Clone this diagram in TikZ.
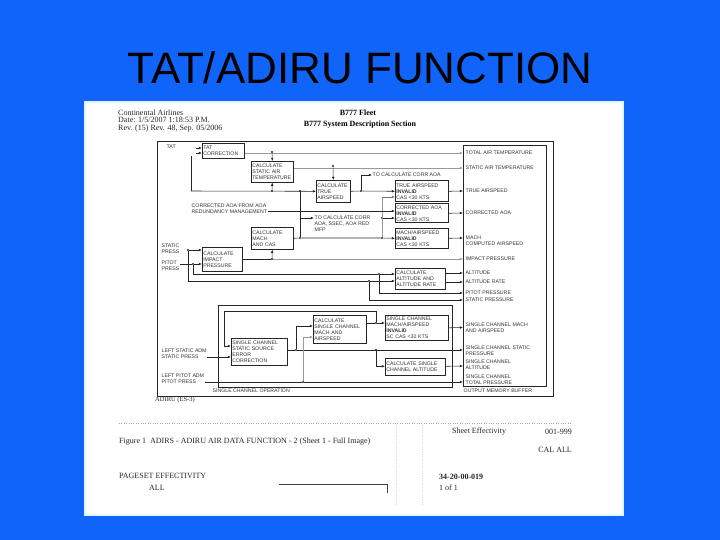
\documentclass[tikz,border=0pt]{standalone}
\usepackage{fontspec}
\setmainfont{Liberation Serif}
\newfontfamily\arial{Liberation Sans}
\usetikzlibrary{arrows.meta, positioning}
\definecolor{slideblue}{RGB}{16,100,250}
\newcommand{\dgfont}{\arial\fontsize{5.2}{6}\selectfont}

\begin{document}
\begin{tikzpicture}[x=1pt, y=-1pt,
    blk/.style={
        draw=black!85, line width=0.6pt, rectangle, anchor=north west,
        inner xsep=1pt, inner ysep=0.5pt, font=\dgfont, align=left, text=black!80
    },
    frm/.style={draw=black!85, line width=0.6pt, anchor=north west, inner sep=0pt},
    lbl/.style={font=\dgfont, align=left, anchor=west, inner sep=0.5pt, text=black!80},
    hdr/.style={font=\fontsize{8}{7.5}\selectfont, align=left, anchor=north west, inner sep=0pt, text=black!85},
    ftr/.style={font=\fontsize{8}{9}\selectfont, anchor=west, inner sep=0pt, text=black!85},
    arr/.style={-{Latex[length=3.2pt,width=2.6pt]}, line width=0.55pt, draw=black!85},
    ln/.style={line width=0.55pt, draw=black!85},
    faint/.style={draw=black!40},
    jn/.style={circle, fill=black!85, inner sep=0pt, minimum size=2.2pt}
]

% slide
\fill[slideblue] (0,0) rectangle (720,540);
\node[font=\arial\fontsize{44}{44}\selectfont, inner sep=0pt] (title) at (360,68) {TAT/ADIRU FUNCTION};

% scanned page
\fill[white] (84,101) rectangle (624,516);
\draw[cyan!12, line width=1.5pt] (85,102) rectangle (623,515);

\node[hdr] (airline) at (118,109.5) {Continental Airlines\\Date: 1/5/2007 1:18:53 P.M.\\Rev. (15) Rev. 48, Sep. 05/2006};
\node[font=\bfseries\fontsize{8}{8}\selectfont, inner sep=0pt] (fleet) at (358,113) {B777 Fleet};
\node[font=\bfseries\fontsize{8}{8}\selectfont, inner sep=0pt] (section) at (360,125) {B777 System Description Section};

% frames
\node[frm, line width=0.8pt, minimum width=396pt, minimum height=255pt] (frame) at (157,141) {};
\node[frm, minimum width=83pt, minimum height=241pt] (buffer) at (463,145) {};
\node[frm, minimum width=234pt, minimum height=82pt] (scop) at (218,305) {};
\node[lbl] (lbuf) at (463,391) {OUTPUT MEMORY BUFFER};
\node[lbl] (lscop) at (212,391) {SINGLE CHANNEL OPERATION};

% blocks
\node[blk, text width=40pt, minimum height=15pt] (tatc)    at (202,143)   {TAT\\CORRECTION};
\node[blk, text width=40pt, minimum height=21pt] (sat)     at (251,161)   {CALCULATE\\STATIC AIR\\TEMPERATURE};
\node[blk, text width=32pt, minimum height=22pt] (tas)     at (316,180)   {CALCULATE\\TRUE\\AIRSPEED};
\node[blk, text width=51pt, minimum height=21pt] (tasinv)  at (395,180.5) {TRUE AIRSPEED\\\textbf{INVALID}\\CAS <30 KTS};
\node[blk, text width=51pt, minimum height=19pt] (aoainv)  at (395,203.5) {CORRECTED AOA\\\textbf{INVALID}\\CAS <30 KTS};
\node[blk, text width=51pt, minimum height=20pt] (machinv) at (395,228)   {MACH/AIRSPEED\\\textbf{INVALID}\\CAS <30 KTS};
\node[blk, text width=40pt, minimum height=22pt] (mach)    at (251,227)   {CALCULATE\\MACH\\AND CAS};
\node[blk, text width=38pt, minimum height=24pt] (imp)     at (202,247)   {CALCULATE\\IMPACT\\PRESSURE};
\node[blk, text width=48pt, minimum height=21pt] (alt)     at (395,268)   {CALCULATE\\ALTITUDE AND\\ALTITUDE RATE};
\node[blk, text width=51pt, minimum height=28pt] (sccalc)  at (313,315)   {CALCULATE\\SINGLE CHANNEL\\MACH AND\\AIRSPEED};
\node[blk, text width=54pt, minimum height=27pt] (scssec)  at (231,338)   {SINGLE CHANNEL\\STATIC SOURCE\\ERROR\\CORRECTION};
\node[blk, text width=61pt, minimum height=25pt] (scinv)   at (385,315)   {SINGLE CHANNEL\\MACH/AIRSPEED\\\textbf{INVALID}\\SC CAS <30 KTS};
\node[blk, text width=58pt, minimum height=17pt] (scalt)   at (385,357.5) {CALCULATE SINGLE\\CHANNEL ALTITUDE};

% input labels
\node[lbl] (ltat)   at (166,147) {TAT};
\node[lbl] (lstat)  at (161,249) {STATIC\\PRESS};
\node[lbl] (lpitot) at (161,266) {PITOT\\PRESS};
\node[lbl] (laoa)   at (191,209) {CORRECTED AOA FROM AOA\\REDUNDANCY MANAGEMENT};
\node[lbl] (lcorr)  at (372,175) {TO CALCULATE CORR AOA};
\node[lbl, anchor=north west] (lssec) at (314,215) {TO CALCULATE CORR\\AOA, SSEC, AOA RED\\MFP};
\node[lbl] (llsp)   at (161,353.5) {LEFT STATIC ADM\\STATIC PRESS};
\node[lbl] (llpp)   at (161,379) {LEFT PITOT ADM\\PITOT PRESS};

% output ports
\coordinate (oTat)  at (463,153);
\coordinate (oSat)  at (463,168);
\coordinate (oTas)  at (463,191);
\coordinate (oAoa)  at (463,213);
\coordinate (oMach) at (463,238);
\coordinate (oImp)  at (463,259);
\coordinate (oAlt)  at (463,273);
\coordinate (oAltr) at (463,282);
\coordinate (oPt)   at (463,293);
\coordinate (oPs)   at (463,300);
\coordinate (oScm)  at (463,327.5);
\coordinate (oScs)  at (463,350);
\coordinate (oSca)  at (463,366);
\coordinate (oSct)  at (463,382);

\node[lbl, right=2pt of oTat]  (lTat)  {TOTAL AIR TEMPERATURE};
\node[lbl, right=2pt of oSat]  (lSat)  {STATIC AIR TEMPERATURE};
\node[lbl, right=2pt of oTas]  (lTas)  {TRUE AIRSPEED};
\node[lbl, right=2pt of oAoa]  (lAoa)  {CORRECTED AOA};
\node[lbl, right=2pt of oMach, yshift=-3pt] (lMach) {MACH\\COMPUTED AIRSPEED};
\node[lbl, right=2pt of oImp]  (lImp)  {IMPACT PRESSURE};
\node[lbl, right=2pt of oAlt]  (lAlt)  {ALTITUDE};
\node[lbl, right=2pt of oAltr] (lAltr) {ALTITUDE RATE};
\node[lbl, right=2pt of oPt]   (lPt)   {PITOT PRESSURE};
\node[lbl, right=2pt of oPs]   (lPs)   {STATIC PRESSURE};
\node[lbl, right=2pt of oScm]  (lScm)  {SINGLE CHANNEL MACH\\AND AIRSPEED};
\node[lbl, right=2pt of oScs, yshift=-1pt] (lScs) {SINGLE CHANNEL STATIC\\PRESSURE};
\node[lbl, right=2pt of oSca, yshift=1pt]  (lSca) {SINGLE CHANNEL\\ALTITUDE};
\node[lbl, right=2pt of oSct, yshift=2.5pt] (lSct) {SINGLE CHANNEL\\TOTAL PRESSURE};

% junctions
\node[jn] (j1)  at (272,191) {};
\node[jn] (j2)  at (300,191) {};
\node[jn] (j3)  at (361,191) {};
\node[jn] (j4)  at (382,218) {};
\node[jn] (j5)  at (382,238) {};
\node[jn] (j6)  at (300,238) {};
\node[jn] (j7)  at (272,259) {};
\node[jn] (jS)  at (188,250) {};
\node[jn] (jP)  at (193,264) {};
\node[jn] (jS2) at (369,281) {};
\node[jn] (jP2) at (379,274) {};
\node[jn] (j8)  at (296,350) {};
\node[jn] (j9)  at (376,350) {};
\node[jn] (jM)  at (376,323) {};
\node[jn] (j10) at (303,382) {};
\node[jn] (satTop) at (272,152) {};
\node[jn] (tasTop) at (333,166) {};

\coordinate (tatA)   at (196,148);
\coordinate (tatB)   at (196,153);
\coordinate (tatDn)  at (191,156);
\coordinate (tatBus) at (191,191);
\coordinate (casTop) at (382,197);
\coordinate (aoaIn)  at (395,211);
\coordinate (ssecArr) at (300,218);
\coordinate (sccIn1) at (313,326);
\coordinate (sccIn2) at (313,337);
\coordinate (fbB)    at (224,311);
\coordinate (fbIn)   at (231,346);
\coordinate (sIn)    at (231,357);

% temperature and airspeed
\draw[arr] (tatA) -- (tatc.west |- tatA);
\draw[arr] (tatB) -- (tatc.west |- tatB);
\draw[arr, faint] (tatc.east |- oTat) -- (oTat);
\draw[arr, faint] (sat.east |- oSat) -- (oSat);
\draw[ln] (tatDn) -- (tatBus);
\draw[arr] (tatBus) -- (tas.west);
\draw[arr] (j1) -- (sat.south);
\draw[arr] (satTop) -- (sat.north);
\draw[arr] (tasTop) -- (tas.north);
\draw[ln] (tas.east) -- (j3);
\draw[arr] (j3) -- (tasinv.west);
\draw[arr] (j3) |- (lcorr.west);
\draw[ln, faint] (casTop) -- (j5);
\draw[arr, draw=black!55] (casTop) -- (tasinv.west |- casTop);
\draw[arr] (j4) -- (aoainv.west |- j4);
\draw[arr] (laoa.east |- aoaIn) -- (aoaIn);
\draw[ln] (j2) -- (j6);
\draw[arr] (ssecArr) -- (lssec.west |- ssecArr);
\draw[ln] (mach.east) -- (j6) -- (j5);
\draw[arr] (j5) -- (machinv.west);
\draw[arr] (tasinv.east) -- (oTas);
\draw[arr] (aoainv.east) -- (oAoa);
\draw[arr] (machinv.east) -- (oMach);

% pressures
\draw[ln] (lpitot.east |- jP) -- (jP);
\draw[arr] (jS) -- (imp.west |- jS);
\draw[arr] (jP) -- (imp.west |- jP);
\draw[ln] (imp.east |- j7) -- (j7);
\draw[arr] (j7) -- (mach.south);
\draw[arr, faint] (j7) -- (oImp);
\draw[ln] (jS) |- (jS2);
\draw[ln] (jP) |- (jP2);
\draw[arr] (jP2) -- (alt.west |- jP2);
\draw[arr] (jS2) -- (alt.west |- jS2);
\draw[arr] (jP2) |- (oPt);
\draw[arr] (jS2) |- (oPs);
\draw[arr] (alt.east |- oAlt) -- (oAlt);
\draw[arr] (alt.east |- oAltr) -- (oAltr);

% single channel
\draw[arr] (llsp.east |- sIn) -- (sIn);
\draw[ln] (scssec.east |- j8) -- (j8);
\draw[arr] (j8) -- (oScs);
\draw[arr] (j8) |- (sccIn1);
\draw[arr, faint] (j10) |- (sccIn2);
\draw[ln] (sccalc.east |- jM) -- (jM);
\draw[arr] (jM) -- (scinv.west |- jM);
\draw[arr] (jM) |- (fbB) |- (fbIn);
\draw[arr] (j9) |- (scalt.west);
\draw[arr] (scinv.east) -- (oScm);
\draw[arr] (scalt.east) -- (oSca);
\draw[ln] (llpp.east |- j10) -- (j10);
\draw[arr] (j10) -- (oSct);

% page footer
\node[font=\fontsize{6.5}{7}\selectfont, anchor=west, inner sep=0pt, text=black!85] (esref) at (155,400) {ADIRU (ES-3)};
\draw[dotted, black!35] (119,423) -- (572,423);
\draw[dotted, black!15] (396,425) -- (396,505);
\draw[dotted, black!15] (422,425) -- (422,505);
\node[ftr] (caption) at (119,442) {Figure 1\ \ ADIRS - ADIRU AIR DATA FUNCTION - 2 (Sheet 1 - Full Image)};
\node[ftr] (sheet) at (452,432) {Sheet Effectivity};
\node[ftr, anchor=east] (range) at (572,432) {001-999};
\node[ftr, anchor=east] (cal) at (572,450) {CAL ALL};
\node[ftr] (pageset) at (119,476) {PAGESET EFFECTIVITY};
\node[ftr] (all) at (149,488) {ALL};
\draw[black!75, line width=0.6pt] (279,484) -- (387,484) -- (387,493);
\node[ftr, font=\bfseries\fontsize{8}{9}\selectfont] (docnum) at (439,477) {34-20-00-019};
\node[ftr] (pageof) at (439,488) {1 of 1};

\end{tikzpicture}
\end{document}
